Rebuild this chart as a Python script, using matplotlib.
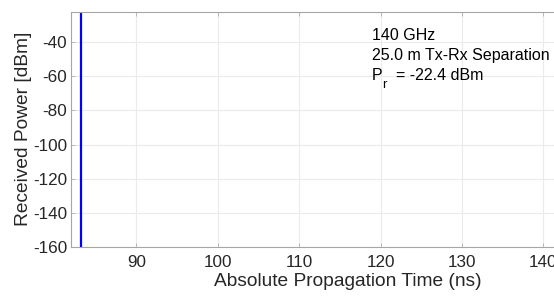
import matplotlib
matplotlib.use("Agg")
import matplotlib.pyplot as plt

# single-path power delay profile
delay_ns = [83.2, 83.2]
power_dbm = [-170.0, -22.0]

freq_label = "140 GHz"
sep_label = "25.0 m Tx-Rx Separation"
pr_value = "= -22.4 dBm"

xticks = [90, 100, 110, 120, 130, 140]
yticks = [-40, -60, -80, -100, -120, -140, -160]

plt.rcParams['font.family'] = ['Liberation Sans', 'DejaVu Sans']
plt.rcParams['axes.unicode_minus'] = False

W, H = 554, 298
fig = plt.figure(figsize=(W / 100, H / 100), dpi=100)
ax = fig.add_axes([71.3 / W, 51.3 / H, 553.5 / W, 235 / H])

ax.plot(delay_ns, power_dbm, color=(0, 0, 1), linewidth=1.6)

ax.set_xlim(82, 150)
ax.set_ylim(-160, -22.0)
ax.set_xticks(xticks)
ax.set_yticks(yticks)
ax.grid(True, color='#ebebeb', linewidth=0.8)
ax.set_axisbelow(True)
for s in ax.spines.values():
    s.set_color('#a6a6a6')
    s.set_linewidth(0.8)
ax.tick_params(labelcolor='#262626', color='#b0b0b0', labelsize=12.3, length=3,
               direction='in', width=0.6, top=True, right=True)
ax.tick_params(axis='x', pad=6.3)
ax.tick_params(axis='y', pad=3)

ax.set_xlabel("Absolute Propagation Time (ns)", fontsize=13.8, color='#262626', labelpad=1.5)
ax.set_ylabel("Received Power [dBm]", fontsize=13.8, color='#262626', labelpad=0.5)

# annotation block, pixel positions from the top-left corner
def fig_text(px, py, s, size=11.5):
    fig.text(px / W, 1 - py / H, s, fontsize=size, color='black', va='baseline')

fig_text(371.5, 40, freq_label)
fig_text(371.5, 60, sep_label)
fig_text(372, 80, "P")
fig_text(382, 88, "r", size=9.5)
fig_text(396.5, 80, pr_value)

fig.savefig("out.png", dpi=100)
